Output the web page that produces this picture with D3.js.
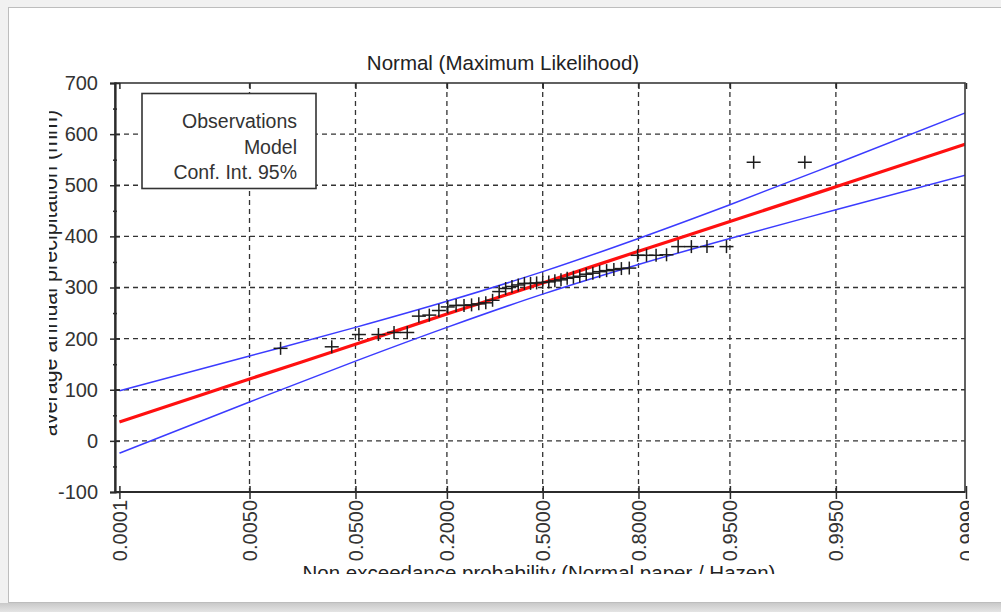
<!DOCTYPE html>
<html>
<head>
<meta charset="utf-8">
<script src="https://cdn.jsdelivr.net/npm/d3@7"></script>
<style>
  html, body { margin: 0; padding: 0; background: #ffffff; }
  svg { display: block; font-family: "Liberation Sans", Arial, sans-serif; }
</style>
</head>
<body>
<svg id="chart" width="1001" height="612"></svg>
<script>
// Probability ticks on normal paper and their printed labels
const probTicks = [0.0001, 0.005, 0.05, 0.2, 0.5, 0.8, 0.95, 0.995, 0.9999];
const probTickLabels = ["0.0001", "0.0050", "0.0500", "0.2000", "0.5000", "0.8000", "0.9500", "0.9950", "0.9999"];

// Precipitation axis ticks (mm)
const yTicks = [-100, 0, 100, 200, 300, 400, 500, 600, 700];
const yMinorTicks = [-50, 50, 150, 250, 350, 450, 550, 650];

// Sorted observations of average annual precipitation (mm), plotted with Hazen positions
const observations = [
  181, 184, 208, 208, 212, 212, 244, 246, 255, 262,
  265, 265, 266, 268, 270, 275, 292, 298, 302, 305,
  308, 308, 309, 310, 311, 313, 315, 318, 320, 322,
  326, 328, 331, 333, 335, 337, 338, 363, 363, 363,
  364, 380, 380, 380, 380, 545, 545
];

// Fitted normal model and 95% confidence limits at the tick probabilities
const curveProbs = [0.0001, 0.005, 0.05, 0.2, 0.5, 0.8, 0.95, 0.995, 0.9999];
const modelValues = [37, 121, 189, 248, 309, 371, 429, 497, 581];
const upperValues = [98, 166, 222, 273, 331, 396, 462, 542, 642];
const lowerValues = [-24, 76, 156, 222, 287, 345, 396, 452, 520];

// Legend entries
const legendItems = ["Observations", "Model", "Conf. Int. 95%"];

// Inverse standard normal CDF (Acklam's rational approximation)
function probit(p) {
  const a = [-3.969683028665376e+01, 2.209460984245205e+02, -2.759285104469687e+02,
             1.383577518672690e+02, -3.066479806614716e+01, 2.506628277459239e+00];
  const b = [-5.447609879822406e+01, 1.615858368580409e+02, -1.556989798598866e+02,
             6.680131188771670e+01, -1.328068155288572e+01];
  const c = [-7.784894002430293e-03, -3.223964580411365e-01, -2.400758277161838e+00,
             -2.549671500383960e+00, 4.374664141464968e+00, 2.938163982698783e+00];
  const d = [7.784695709041462e-03, 3.224671290700398e-01, 2.445134137142996e+00,
             3.754408661907416e+00];
  const pl = 0.02425, ph = 1 - pl;
  let q, r;
  if (p < pl) {
    q = Math.sqrt(-2 * Math.log(p));
    return (((((c[0]*q+c[1])*q+c[2])*q+c[3])*q+c[4])*q+c[5]) /
           ((((d[0]*q+d[1])*q+d[2])*q+d[3])*q+1);
  } else if (p <= ph) {
    q = p - 0.5; r = q * q;
    return (((((a[0]*r+a[1])*r+a[2])*r+a[3])*r+a[4])*r+a[5])*q /
           (((((b[0]*r+b[1])*r+b[2])*r+b[3])*r+b[4])*r+1);
  } else {
    q = Math.sqrt(-2 * Math.log(1 - p));
    return -(((((c[0]*q+c[1])*q+c[2])*q+c[3])*q+c[4])*q+c[5]) /
            ((((d[0]*q+d[1])*q+d[2])*q+d[3])*q+1);
  }
}

const svg = d3.select("#chart");
const W = 1001, H = 612;

// Window frame and shadow
svg.append("rect").attr("width", W).attr("height", H).attr("fill", "#f1f1f1");
const defs = svg.append("defs");
const shade = defs.append("linearGradient").attr("id", "bottomShade")
  .attr("x1", 0).attr("y1", 0).attr("x2", 0).attr("y2", 1);
shade.append("stop").attr("offset", 0).attr("stop-color", "#c9c9c9");
shade.append("stop").attr("offset", 1).attr("stop-color", "#e4e4e4");
svg.append("rect").attr("x", 0).attr("y", 603).attr("width", W).attr("height", 9)
  .attr("fill", "url(#bottomShade)");
svg.append("rect").attr("x", 8.5).attr("y", 7.5).attr("width", 1000).attr("height", 595)
  .attr("fill", "#ffffff").attr("stroke", "#bdbdbd").attr("stroke-width", 1);

// Visible area of the chart image
defs.append("clipPath").attr("id", "viewClip")
  .append("rect").attr("x", 0).attr("y", 37).attr("width", 969).attr("height", 537);
defs.append("clipPath").attr("id", "ylabClip")
  .append("rect").attr("x", 49).attr("y", 0).attr("width", 100).attr("height", H);

const plot = { left: 115, right: 965, top: 83, bottom: 492 };

const x = d3.scaleLinear()
  .domain([probit(0.0001), probit(0.9999)])
  .range([119.4, 966]);
const y = d3.scaleLinear().domain([-100, 700]).range([plot.bottom, plot.top]);

defs.append("clipPath").attr("id", "plotClip")
  .append("rect").attr("x", plot.left).attr("y", plot.top)
  .attr("width", plot.right - plot.left).attr("height", plot.bottom - plot.top);

const g = svg.append("g").attr("clip-path", "url(#viewClip)");
const ink = "#2b2b2b";

// Grid
const grid = g.append("g");
grid.selectAll("line.h").data(yTicks.filter(v => v > -100 && v < 700)).join("line")
  .attr("x1", plot.left).attr("x2", plot.right)
  .attr("y1", d => y(d)).attr("y2", d => y(d))
  .attr("stroke", "#333").attr("stroke-width", 1.3).attr("stroke-dasharray", "5,4");
grid.selectAll("line.v").data(probTicks.slice(1, -1)).join("line")
  .attr("x1", d => x(probit(d))).attr("x2", d => x(probit(d)))
  .attr("y1", plot.top).attr("y2", plot.bottom)
  .attr("stroke", "#333").attr("stroke-width", 1.3).attr("stroke-dasharray", "5,4");

// Model and confidence limits
const curve = g.append("g").attr("clip-path", "url(#plotClip)");
const lineOf = vals => d3.line()
  .x((d, i) => x(probit(curveProbs[i])))
  .y(d => y(d))
  .curve(d3.curveMonotoneX)(vals);
curve.append("path").attr("d", lineOf(upperValues))
  .attr("fill", "none").attr("stroke", "#3b3bff").attr("stroke-width", 1.5);
curve.append("path").attr("d", lineOf(lowerValues))
  .attr("fill", "none").attr("stroke", "#3b3bff").attr("stroke-width", 1.5);
curve.append("path").attr("d", lineOf(modelValues))
  .attr("fill", "none").attr("stroke", "#ff1010").attr("stroke-width", 3.2);

// Observations as plus markers
const n = observations.length;
const obs = g.append("g").attr("stroke", "#1c1c1c").attr("stroke-width", 1.5);
const mk = obs.selectAll("g").data(observations).join("g")
  .attr("transform", (d, i) => `translate(${x(probit((i + 0.5) / n))},${y(d)})`);
mk.append("line").attr("x1", -7).attr("x2", 7).attr("y1", 0).attr("y2", 0);
mk.append("line").attr("x1", 0).attr("x2", 0).attr("y1", -6.5).attr("y2", 6.5);

// Plot frame
g.append("rect").attr("x", plot.left).attr("y", plot.top)
  .attr("width", plot.right - plot.left).attr("height", plot.bottom - plot.top)
  .attr("fill", "none").attr("stroke", "#3a3a3a").attr("stroke-width", 1.6);

// Left axis
const yAxis = g.append("g").attr("transform", `translate(${plot.left},0)`)
  .call(d3.axisLeft(y).tickValues(yTicks).tickSize(5).tickPadding(12)
    .tickFormat(d => String(d)));
yAxis.select(".domain").attr("stroke", ink).attr("stroke-width", 2.2);
yAxis.selectAll(".tick line").attr("x2", -5).attr("x1", 5).attr("stroke", ink).attr("stroke-width", 1.5);
yAxis.selectAll(".tick text").attr("font-size", 20).attr("fill", "#333")
  .attr("font-family", "Liberation Sans, Arial, sans-serif");
const yMinor = g.append("g").attr("transform", `translate(${plot.left},0)`)
  .call(d3.axisLeft(y).tickValues(yMinorTicks).tickSize(2).tickFormat(""));
yMinor.select(".domain").remove();
yMinor.selectAll(".tick line").attr("x1", 2).attr("stroke", ink).attr("stroke-width", 1.5);

// Bottom axis with rotated probability labels
const zTicks = probTicks.map(probit);
const xAxis = g.append("g").attr("transform", `translate(0,${plot.bottom})`)
  .call(d3.axisBottom(x).tickValues(zTicks).tickSize(7).tickFormat((d, i) => probTickLabels[i]));
xAxis.select(".domain").attr("d", `M${plot.left},0H${plot.right}`)
  .attr("stroke", ink).attr("stroke-width", 2.2);
xAxis.selectAll(".tick line").attr("y1", -6).attr("stroke", ink).attr("stroke-width", 1.5);
xAxis.selectAll(".tick text")
  .attr("font-size", 20).attr("fill", "#333")
  .attr("font-family", "Liberation Sans, Arial, sans-serif")
  .attr("transform", "rotate(-90)")
  .attr("text-anchor", "end")
  .attr("x", -8).attr("y", 0).attr("dy", "0.35em");

// Top axis ticks
const topAxis = g.append("g").attr("transform", `translate(0,${plot.top})`)
  .call(d3.axisTop(x).tickValues(zTicks).tickSize(-6).tickFormat(""));
topAxis.select(".domain").remove();
topAxis.selectAll(".tick line").attr("stroke", ink).attr("stroke-width", 1.5);

// Titles
g.append("text").attr("x", 503).attr("y", 70).attr("text-anchor", "middle")
  .attr("font-size", 20.5).attr("fill", "#222").text("Normal (Maximum Likelihood)");
g.append("text").attr("x", 539).attr("y", 580).attr("text-anchor", "middle")
  .attr("font-size", 20.5).attr("fill", "#222")
  .text("Non exceedance probability (Normal paper / Hazen)");
g.append("g").attr("clip-path", "url(#ylabClip)")
  .append("text").attr("transform", "translate(57,273) rotate(-90)")
  .attr("text-anchor", "middle").attr("font-size", 21.5).attr("fill", "#222")
  .text("average annual precipitation (mm)");

// Legend
const leg = g.append("g");
leg.append("rect").attr("x", 142).attr("y", 93.5).attr("width", 174).attr("height", 95)
  .attr("fill", "#ffffff").attr("stroke", "#333").attr("stroke-width", 1.6);
leg.selectAll("text").data(legendItems).join("text")
  .attr("x", 297).attr("y", (d, i) => 128 + i * 25.7)
  .attr("text-anchor", "end").attr("font-size", 19.5).attr("fill", "#333")
  .text(d => d);
</script>
</body>
</html>
